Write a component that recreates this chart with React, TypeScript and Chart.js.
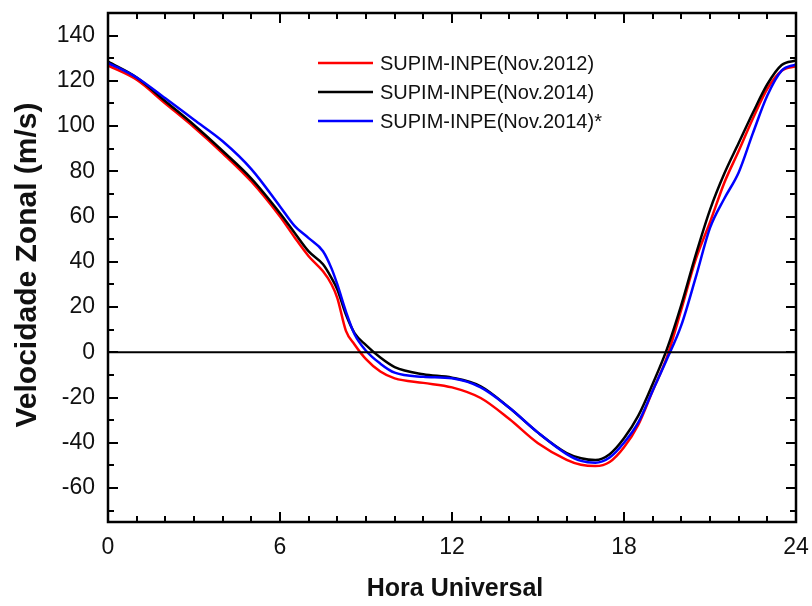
import React, { useEffect, useRef } from "react";
import { Chart, registerables } from "chart.js";

Chart.register(...registerables);

// ---- data ----
const hours = [0, 1, 2, 3, 4, 5, 6, 6.5, 7, 7.5, 7.8, 8, 8.3, 8.6, 9, 9.5, 10, 11, 12, 13, 14, 15, 16, 16.5, 17, 17.5, 18, 18.5, 19, 19.5, 20, 20.5, 21, 21.5, 22, 22.5, 23, 23.5, 24];

const nov2012 = [126.8, 120.5, 110, 99.5, 88, 75.5, 60, 51, 42.5, 35.8, 30, 24, 9.5, 3.5, -3, -8.5, -11.5, -13.5, -15.5, -20.2, -29.5, -40.2, -47.5, -49.7, -50.3, -48.5, -42, -32, -17, -2, 19, 41, 57.5, 75, 89, 103.5, 116.5, 124.5, 126.5];

const nov2014 = [128.5, 121.5, 111, 100.5, 89, 76.8, 61.5, 53, 44.6, 38.9, 32.8, 27.8, 16.7, 8.5, 3.2, -2.3, -6.5, -9.7, -11.2, -15, -24.5, -35.5, -44.5, -46.8, -47.6, -45, -38, -28, -14, 1.5, 21, 43, 63, 79, 92.5, 106, 118.5, 127, 129];

const nov2014star = [128, 121.5, 112.3, 102.8, 93.3, 81, 64.5, 56, 50.5, 44.7, 37, 30, 18, 8, 0.7, -5, -9, -10.8, -11.5, -15.5, -24.5, -35.5, -45, -48, -48.8, -46.5, -40, -31, -17, -3, 12, 33, 55, 68, 79.5, 97, 113.5, 124.5, 127.3];

const seriesLabels = ["SUPIM-INPE(Nov.2012)", "SUPIM-INPE(Nov.2014)", "SUPIM-INPE(Nov.2014)*"];
const seriesColors = ["#ff0000", "#000000", "#0000ff"];

const xTickLabels = [0, 6, 12, 18, 24];
const yTickLabels = [-60, -40, -20, 0, 20, 40, 60, 80, 100, 120, 140];
const xMinorStep = 1;
const yMinorStep = 10;
const xRange = [0, 24];
const yRange = [-75, 150];
const zeroLevel = 0;

const xTitle = "Hora Universal";
const yTitle = "Velocidade Zonal (m/s)";

const FONT = "'Liberation Sans', Arial, sans-serif";

const framePlugin = {
  id: "frameTicksLegend",
  afterDatasetsDraw(chart: any) {
    const { ctx, chartArea } = chart;
    const ys = chart.scales.y;
    const { left, right } = chartArea;
    ctx.save();
    const y0 = ys.getPixelForValue(zeroLevel);
    ctx.strokeStyle = "#000";
    ctx.lineWidth = 2;
    ctx.beginPath();
    ctx.moveTo(left, y0);
    ctx.lineTo(right, y0);
    ctx.stroke();
    ctx.restore();
  },
  afterDraw(chart: any) {
    const { ctx, chartArea } = chart;
    const xs = chart.scales.x;
    const ys = chart.scales.y;
    const { left, right, top, bottom } = chartArea;
    ctx.save();
    ctx.strokeStyle = "#000";
    ctx.lineWidth = 2;
    const major = 10;
    const minor = 6;
    ctx.beginPath();
    for (let v = xRange[0]; v <= xRange[1] + 1e-9; v += xMinorStep) {
      const px = Math.round(xs.getPixelForValue(v));
      const len = xTickLabels.includes(v) ? major : minor;
      ctx.moveTo(px, bottom);
      ctx.lineTo(px, bottom - len);
      ctx.moveTo(px, top);
      ctx.lineTo(px, top + len);
    }
    const yStart = Math.ceil(yRange[0] / yMinorStep) * yMinorStep;
    for (let v = yStart; v < yRange[1]; v += yMinorStep) {
      const py = Math.round(ys.getPixelForValue(v));
      const len = yTickLabels.includes(v) ? major : minor;
      ctx.moveTo(left, py);
      ctx.lineTo(left + len, py);
      ctx.moveTo(right, py);
      ctx.lineTo(right - len, py);
    }
    ctx.stroke();
    ctx.lineWidth = 2.5;
    ctx.strokeRect(left, top, right - left, bottom - top);

    // axis titles
    ctx.fillStyle = "#111";
    ctx.font = `bold 25px ${FONT}`;
    ctx.textAlign = "center";
    ctx.textBaseline = "middle";
    ctx.fillText(xTitle, (left + right) / 2 + 3, 589);
    ctx.save();
    ctx.translate(28, 265);
    ctx.rotate(-Math.PI / 2);
    ctx.font = `bold 30px ${FONT}`;
    ctx.fillText(yTitle, 0, 0);
    ctx.restore();

    // legend
    const lx0 = left + 210;
    const lx1 = left + 265;
    const tx = left + 272;
    const ly0 = top + 50;
    const lstep = 29;
    ctx.font = `20px ${FONT}`;
    ctx.textAlign = "left";
    ctx.textBaseline = "middle";
    seriesLabels.forEach((lab, i) => {
      const y = ly0 + i * lstep;
      ctx.strokeStyle = seriesColors[i];
      ctx.lineWidth = 2.5;
      ctx.beginPath();
      ctx.moveTo(lx0, y);
      ctx.lineTo(lx1, y);
      ctx.stroke();
      ctx.fillStyle = "#111";
      ctx.fillText(lab, tx, y + 1);
    });
    ctx.restore();
  },
};

const zeroPad = (s: any) => {
  s.paddingTop = 0;
  s.paddingBottom = 0;
  s.paddingLeft = 0;
  s.paddingRight = 0;
};

export default function App() {
  const ref = useRef<HTMLCanvasElement | null>(null);
  useEffect(() => {
    if (!ref.current) return;
    const seriesValues = [nov2012, nov2014, nov2014star];
    const orders = [3, 2, 1];
    const chart = new Chart(ref.current, {
      type: "line",
      data: {
        datasets: seriesValues.map((vals, i) => ({
          label: seriesLabels[i],
          data: hours.map((h, k) => ({ x: h, y: vals[k] })),
          borderColor: seriesColors[i],
          backgroundColor: seriesColors[i],
          borderWidth: 2.5,
          pointRadius: 0,
          cubicInterpolationMode: "monotone" as const,
          order: orders[i],
          fill: false,
        })),
      },
      options: {
        responsive: false,
        maintainAspectRatio: false,
        animation: false,
        devicePixelRatio: 1,
        layout: { padding: { left: 0, right: 16, top: 13, bottom: 0 } },
        plugins: { legend: { display: false }, tooltip: { enabled: false } },
        scales: {
          x: {
            type: "linear",
            min: xRange[0],
            max: xRange[1],
            afterBuildTicks: (s: any) => {
              s.ticks = xTickLabels.map((v) => ({ value: v }));
            },
            afterFit: (s: any) => {
              s.height = 84;
              zeroPad(s);
            },
            grid: { display: false, drawTicks: false },
            border: { display: false },
            ticks: {
              padding: 12,
              color: "#111",
              font: { family: FONT, size: 23 },
              maxRotation: 0,
            },
          },
          y: {
            type: "linear",
            min: yRange[0],
            max: yRange[1],
            afterBuildTicks: (s: any) => {
              s.ticks = yTickLabels.map((v) => ({ value: v }));
            },
            afterFit: (s: any) => {
              s.width = 108;
              zeroPad(s);
            },
            grid: { display: false, drawTicks: false },
            border: { display: false },
            ticks: {
              padding: 13,
              color: "#111",
              font: { family: FONT, size: 23 },
            },
          },
        },
      },
      plugins: [framePlugin],
    });
    return () => chart.destroy();
  }, []);
  return (
    <div style={{ position: "absolute", left: 0, top: 0, width: 812, height: 606, background: "#fff" }}>
      <canvas ref={ref} width={812} height={606} />
    </div>
  );
}
